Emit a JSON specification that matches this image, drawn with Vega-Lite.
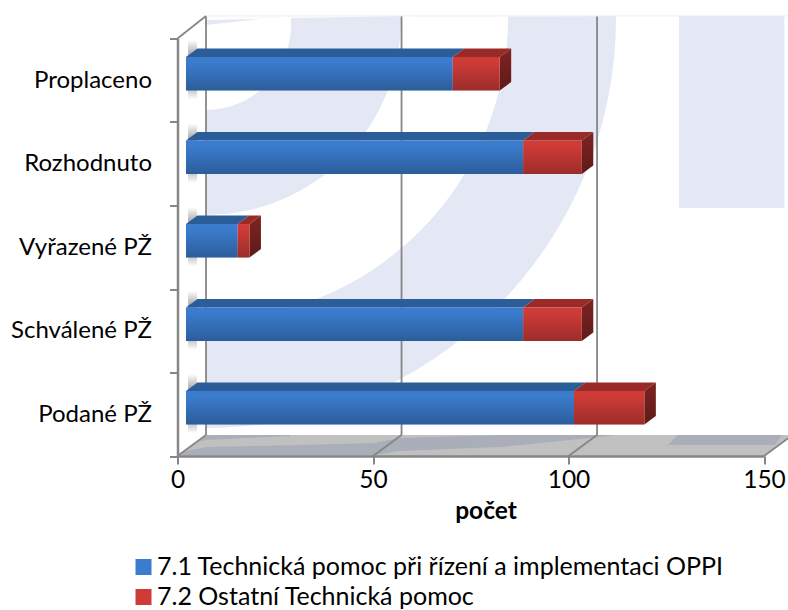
{
"$schema":"https://vega.github.io/schema/vega-lite/v6.json",
"width":586.5,"height":417.5,
"autosize":{"type":"none"},
"padding":{"left":177.5,"top":38.5,"right":24,"bottom":154},
"background":"white",
"config":{"view":{"stroke":null},"font":"Lato"},
"datasets":{
"bars":[
{"stav":"Proplaceno","rada":"7.1 Technická pomoc při řízení a implementaci OPPI","pocet":68},
{"stav":"Proplaceno","rada":"7.2 Ostatní Technická pomoc","pocet":12},
{"stav":"Rozhodnuto","rada":"7.1 Technická pomoc při řízení a implementaci OPPI","pocet":86},
{"stav":"Rozhodnuto","rada":"7.2 Ostatní Technická pomoc","pocet":15},
{"stav":"Vyřazené PŽ","rada":"7.1 Technická pomoc při řízení a implementaci OPPI","pocet":13},
{"stav":"Vyřazené PŽ","rada":"7.2 Ostatní Technická pomoc","pocet":3},
{"stav":"Schválené PŽ","rada":"7.1 Technická pomoc při řízení a implementaci OPPI","pocet":86},
{"stav":"Schválené PŽ","rada":"7.2 Ostatní Technická pomoc","pocet":15},
{"stav":"Podané PŽ","rada":"7.1 Technická pomoc při řízení a implementaci OPPI","pocet":99},
{"stav":"Podané PŽ","rada":"7.2 Ostatní Technická pomoc","pocet":18}
],
"center":[{"x":7.29,"y":5.246}],
"walls":[
{"x":7.29,"y":0.251,"x2":7.29,"y2":5.27},
{"x":57.3,"y":0.251,"x2":57.3,"y2":5.27},
{"x":107.3,"y":0.251,"x2":107.3,"y2":5.27},
{"x":0,"y":0,"x2":7.29,"y2":0.251},
{"x":50,"y":0,"x2":57.3,"y2":0.251},
{"x":100,"y":0,"x2":107.3,"y2":0.251},
{"x":150,"y":0,"x2":157.3,"y2":0.251},
{"x":0,"y":5,"x2":7.29,"y2":5.27}
],
"floor":[{"y":0,"x":0,"x2":150},{"y":0.251,"x":7.29,"x2":157.3}],
"bandC":[{"y":0.132,"x":125.4,"x2":152.8},{"y":0.251,"x":128,"x2":154.6}],
"bandA":[{"x":5.75,"y":0.18,"y2":0.19},{"x":7.29,"y":0.192,"y2":0.251},{"x":28.8,"y":0.24,"y2":0.251}],
"bandB":[
{"x":1.15,"y":0.012,"y2":0.048},{"x":7.29,"y":0.012,"y2":0.108},{"x":31.3,"y":0.012,"y2":0.132},{"x":50.5,"y":0.012,"y2":0.156},
{"x":56.9,"y":0.06,"y2":0.216},{"x":82.5,"y":0.108,"y2":0.251},{"x":97.8,"y":0.18,"y2":0.251},{"x":111.4,"y":0.245,"y2":0.251}
]
},
"data":{"name":"bars"},
"transform":[
{"stack":"pocet","groupby":["stav"],"sort":[{"field":"rada","order":"ascending"}],"as":["od","do"]},
{"calculate":"indexof(['Podané PŽ','Schválené PŽ','Vyřazené PŽ','Rozhodnuto','Proplaceno'],datum.stav)","as":"i"},
{"calculate":"datum.od==0?2.17:datum.od+2.4","as":"x0"},
{"calculate":"datum.do+2.4","as":"x1"},
{"calculate":"datum.i+0.377","as":"yb"},
{"calculate":"datum.i+0.778","as":"yt"}
],
"layer":[
{"data":{"name":"center"},"mark":{"type":"arc","radius":410,"radius2":0,"theta":1.566,"theta2":3.1416,"fill":"#e4e8f4"},
 "encoding":{"x":{"field":"x","type":"quantitative","scale":{"domain":[0,150]},
   "axis":{"values":[0,50,100,150],"title":"počet","titleFontSize":24.5,"titleFontWeight":"bold","titleColor":"#000","titleX":308,"titleY":62,"titleBaseline":"alphabetic","labelFontSize":24.5,"labelColor":"#000","labelPadding":4,"labelFontWeight":"normal","tickColor":"#868686","tickWidth":2,"tickSize":8,"domainColor":"#868686","domainWidth":2.5,"grid":false,"zindex":1,"labelFlush":false,"labelOverlap":false,"labelBound":false}},
  "y":{"datum":5.246,"type":"quantitative","scale":{"domain":[0,5]},
   "axis":{"values":[0,0.5,1,1.5,2,2.5,3,3.5,4,4.5,5],"title":null,"grid":false,"zindex":1,"labelExpr":"datum.value%1==0?'':['Podané PŽ','Schválené PŽ','Vyřazené PŽ','Rozhodnuto','Proplaceno'][floor(datum.value)]","labelFontSize":24,"labelColor":"#000","labelPadding":18,"labelOverlap":false,"labelBound":false,"tickColor":"#868686","tickWidth":2,"tickSize":8,"tickOpacity":{"condition":{"test":"datum.value%1!=0","value":0},"value":1},"domainColor":"#868686","domainWidth":2.5}}}},
{"data":{"name":"center"},"mark":{"type":"arc","radius":302,"radius2":0,"theta":1.564,"theta2":3.1416,"fill":"#ffffff"},
 "encoding":{"x":{"field":"x","type":"quantitative","scale":{"domain":[0,150]}},"y":{"datum":5.246,"type":"quantitative","scale":{"domain":[0,5]}}}},
{"data":{"name":"center"},"mark":{"type":"arc","radius":195,"radius2":0,"theta":1.55,"theta2":3.1416,"fill":"#e4e8f4"},
 "encoding":{"x":{"field":"x","type":"quantitative","scale":{"domain":[0,150]}},"y":{"datum":5.222,"type":"quantitative","scale":{"domain":[0,5]}}}},
{"data":{"name":"center"},"mark":{"type":"arc","radius":85,"radius2":0,"theta":1.464,"theta2":3.1416,"fill":"#ffffff"},
 "encoding":{"x":{"field":"x","type":"quantitative","scale":{"domain":[0,150]}},"y":{"datum":5.162,"type":"quantitative","scale":{"domain":[0,5]}}}},
{"data":{"values":[{"a":128.3,"b":155.2,"c":2.97,"d":5.27}]},"mark":{"type":"rect","fill":"#e4e8f4"},
 "encoding":{"x":{"field":"a","type":"quantitative","scale":{"domain":[0,150]}},"x2":{"field":"b"},"y":{"field":"c","type":"quantitative","scale":{"domain":[0,5]}},"y2":{"field":"d"}}},
{"data":{"values":[{"a":7.29,"b":157.3,"c":5.27,"d":5.46}]},"mark":{"type":"rect","fill":"#ffffff"},
 "encoding":{"x":{"field":"a","type":"quantitative","scale":{"domain":[0,150]}},"x2":{"field":"b"},"y":{"field":"c","type":"quantitative","scale":{"domain":[0,5]}},"y2":{"field":"d"}}},
{"data":{"name":"floor"},"mark":{"type":"area","orient":"horizontal","fill":"#c0c0c0"},
 "encoding":{"y":{"field":"y","type":"quantitative","scale":{"domain":[0,5]}},"x":{"field":"x","type":"quantitative","scale":{"domain":[0,150]}},"x2":{"field":"x2"}}},
{"data":{"name":"bandC"},"mark":{"type":"area","orient":"horizontal","fill":"#a9aeb9"},
 "encoding":{"y":{"field":"y","type":"quantitative","scale":{"domain":[0,5]}},"x":{"field":"x","type":"quantitative","scale":{"domain":[0,150]}},"x2":{"field":"x2"}}},
{"data":{"name":"bandA"},"mark":{"type":"area","orient":"vertical","fill":"#a9aeb9"},
 "encoding":{"x":{"field":"x","type":"quantitative","scale":{"domain":[0,150]}},"y":{"field":"y","type":"quantitative","scale":{"domain":[0,5]}},"y2":{"field":"y2"}}},
{"data":{"name":"bandB"},"mark":{"type":"area","orient":"vertical","fill":"#a9aeb9"},
 "encoding":{"x":{"field":"x","type":"quantitative","scale":{"domain":[0,150]}},"y":{"field":"y","type":"quantitative","scale":{"domain":[0,5]}},"y2":{"field":"y2"}}},
{"data":{"name":"walls"},"mark":{"type":"rule","color":"#868686","strokeWidth":1.8},
 "encoding":{"x":{"field":"x","type":"quantitative","scale":{"domain":[0,150]}},"x2":{"field":"x2"},"y":{"field":"y","type":"quantitative","scale":{"domain":[0,5]}},"y2":{"field":"y2"}}},
{"data":{"values":[{"a":7.29,"b":157.3,"c":5.27}]},"mark":{"type":"rule","color":"#eeeeee","strokeWidth":1},
 "encoding":{"x":{"field":"a","type":"quantitative","scale":{"domain":[0,150]}},"x2":{"field":"b"},"y":{"field":"c","type":"quantitative","scale":{"domain":[0,5]}}}},
{"transform":[{"filter":"datum.od==0"},{"calculate":"datum.i+0.27","as":"s0"},{"calculate":"datum.i+0.98","as":"s1"},{"calculate":"2.7","as":"a"},{"calculate":"5","as":"b"}],
 "mark":{"type":"rect","fill":{"gradient":"linear","x1":0,"y1":0,"x2":0,"y2":1,"stops":[{"offset":0,"color":"#ffffff"},{"offset":0.25,"color":"#a8a8a8"},{"offset":0.75,"color":"#a8a8a8"},{"offset":1,"color":"#ffffff"}]}},
 "encoding":{"x":{"field":"a","type":"quantitative","scale":{"domain":[0,150]}},"x2":{"field":"b"},"y":{"field":"s0","type":"quantitative","scale":{"domain":[0,5]}},"y2":{"field":"s1"}}},
{"transform":[{"calculate":"[0,1]","as":"t"},{"flatten":["t"]},{"calculate":"datum.x0+datum.t*2.94","as":"tx0"},{"calculate":"datum.x1+datum.t*2.94","as":"tx1"},{"calculate":"datum.yt+datum.t*0.102","as":"ty"}],
 "mark":{"type":"area","orient":"horizontal"},
 "encoding":{"y":{"field":"ty","type":"quantitative","scale":{"domain":[0,5]}},"x":{"field":"tx0","type":"quantitative","scale":{"domain":[0,150]}},"x2":{"field":"tx1"},"detail":[{"field":"stav"},{"field":"rada"}],
  "color":{"condition":{"test":"datum.od==0","value":"#2b5d98"},"value":"#9a2a27"}}},
{"transform":[{"filter":"datum.od>0"},{"calculate":"[0,1]","as":"t"},{"flatten":["t"]},{"calculate":"datum.x1+datum.t*2.94","as":"sx"},{"calculate":"datum.yb+datum.t*0.102","as":"sb"},{"calculate":"datum.yt+datum.t*0.102","as":"st"}],
 "mark":{"type":"area","orient":"vertical","fill":{"gradient":"linear","x1":0,"y1":0,"x2":0,"y2":1,"stops":[{"offset":0,"color":"#7f2422"},{"offset":1,"color":"#5e1a18"}]}},
 "encoding":{"x":{"field":"sx","type":"quantitative","scale":{"domain":[0,150]}},"y":{"field":"sb","type":"quantitative","scale":{"domain":[0,5]}},"y2":{"field":"st"},"detail":{"field":"stav"}}},
{"mark":{"type":"rect"},
 "encoding":{"x":{"field":"x0","type":"quantitative","scale":{"domain":[0,150]}},"x2":{"field":"x1"},"y":{"field":"yb","type":"quantitative","scale":{"domain":[0,5]}},"y2":{"field":"yt"},
  "color":{"field":"rada","type":"nominal","scale":{"domain":["7.1 Technická pomoc při řízení a implementaci OPPI","7.2 Ostatní Technická pomoc"],"range":["#3b7cce","#cf3b37"]},
   "legend":{"title":null,"orient":"none","legendX":-46.5,"legendY":516,"symbolType":"square","symbolSize":256,"symbolStrokeWidth":0,"labelFontSize":25,"labelColor":"#000","labelLimit":700,"labelOffset":1,"rowPadding":4,"padding":0}}}},
{"mark":{"type":"rect","fill":{"gradient":"linear","x1":0,"y1":0,"x2":0,"y2":1,"stops":[{"offset":0,"color":"rgba(0,0,0,0)"},{"offset":0.15,"color":"rgba(0,0,0,0)"},{"offset":1,"color":"rgba(0,0,0,0.25)"}]}},
 "encoding":{"x":{"field":"x0","type":"quantitative","scale":{"domain":[0,150]}},"x2":{"field":"x1"},"y":{"field":"yb","type":"quantitative","scale":{"domain":[0,5]}},"y2":{"field":"yt"}}}
]
}
